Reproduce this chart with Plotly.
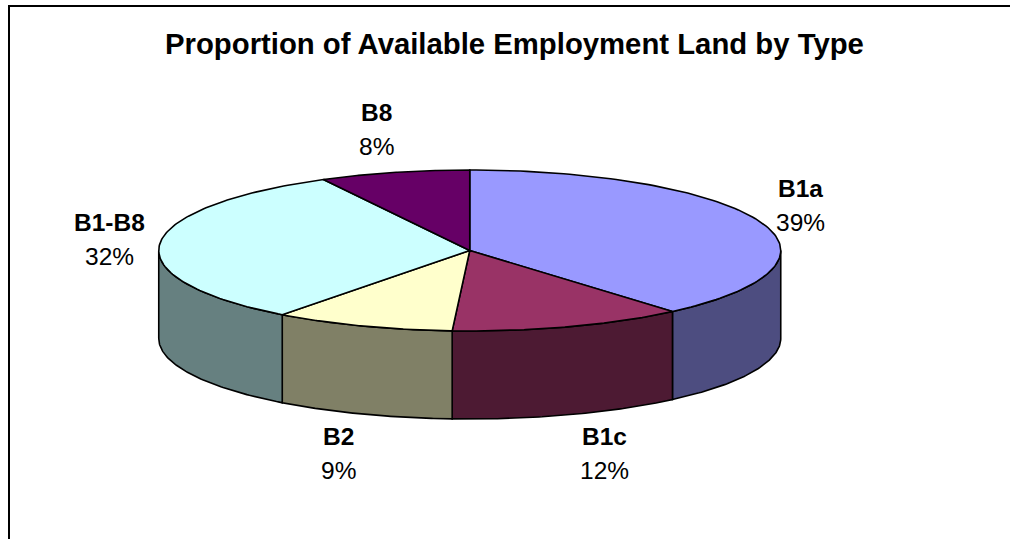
import numpy as np
import plotly.graph_objects as go

title = "Proportion of Available Employment Land by Type"
categories = ["B1a", "B1c", "B2", "B1-B8", "B8"]
values = [38.7, 12.2, 9.4, 31.9, 7.8]
top_colors = ["#9999FF", "#993366", "#FFFFCC", "#CCFFFF", "#660066"]
side_colors = ["#4D4D80", "#4D1A33", "#808066", "#668080", "#330033"]
label_x = [800, 604, 338, 109, 376]
name_y = [188, 436, 436, 222, 112]
pct_y = [222, 470, 470, 256, 146]

CX, CY, RX, RY, DEPTH = 469.75, 250.5, 311, 80.5, 88


def pt(deg, dy=0):
    a = np.radians(deg)
    return CX + RX * np.sin(a), CY - RY * np.cos(a) + dy


fig = go.Figure()
line = dict(color="#000000", width=1.6)


def poly(xs, ys, color):
    fig.add_trace(go.Scatter(x=list(xs), y=list(ys), mode="lines", fill="toself",
                             fillcolor=color, line=line, hoverinfo="skip", showlegend=False))


edges = np.concatenate([[0], np.cumsum(values) * 3.6])

# side walls of the front half
for i in range(len(values)):
    lo, hi = max(edges[i], 90), min(edges[i + 1], 270)
    if hi <= lo:
        continue
    t = np.linspace(lo, hi, 80)
    x1, y1 = pt(t)
    x2, y2 = pt(t[::-1], DEPTH)
    poly(np.r_[x1, x2, x1[0]], np.r_[y1, y2, y1[0]], side_colors[i])

# top faces
for i in range(len(values)):
    t = np.linspace(edges[i], edges[i + 1], 120)
    x, y = pt(t)
    poly(np.r_[CX, x, CX], np.r_[CY, y, CY], top_colors[i])

fig.update_layout(
    width=1010, height=539,
    margin=dict(l=0, r=0, t=0, b=0),
    paper_bgcolor="#FFFFFF", plot_bgcolor="#FFFFFF",
    xaxis=dict(range=[0, 1010], visible=False, fixedrange=True),
    yaxis=dict(range=[539, 0], visible=False, fixedrange=True),
    showlegend=False,
    shapes=[dict(type="rect", xref="x", yref="y", x0=9, y0=6, x1=1030, y1=570,
                 line=dict(color="#000000", width=2), fillcolor="rgba(0,0,0,0)")],
)

FONT = "Liberation Sans"
fig.add_annotation(x=514, y=43, xref="x", yref="y", text=f"<b>{title}</b>", showarrow=False,
                   font=dict(family=FONT, size=29.3, color="#000000"))
for c, v, x, y1, y2 in zip(categories, values, label_x, name_y, pct_y):
    fig.add_annotation(x=x, y=y1, xref="x", yref="y", text=f"<b>{c}</b>", showarrow=False,
                       font=dict(family=FONT, size=24.5, color="#000000"))
    fig.add_annotation(x=x, y=y2, xref="x", yref="y", text=f"{round(v)}%", showarrow=False,
                       font=dict(family=FONT, size=24.5, color="#000000"))

fig.write_html("out.html", config={"displayModeBar": False},
               post_script="document.body.style.margin='0';document.body.style.overflow='hidden';")
